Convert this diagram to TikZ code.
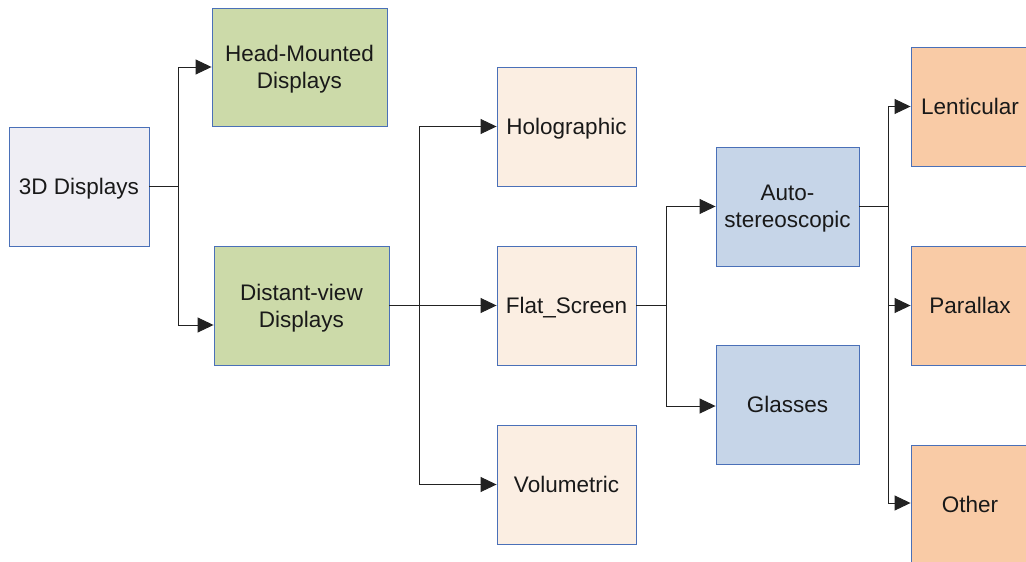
\documentclass[tikz,border=0pt]{standalone}
\usepackage{fontspec}
\setmainfont{Liberation Sans}
\usetikzlibrary{arrows.meta}
\definecolor{bordc}{HTML}{4A70B8}
\definecolor{lav}{HTML}{EFEEF4}
\definecolor{grn}{HTML}{CCDAA9}
\definecolor{pch}{HTML}{FBEEE2}
\definecolor{blu}{HTML}{C6D5E8}
\definecolor{org}{HTML}{F9CBA6}
\definecolor{ln}{HTML}{222222}
\tikzset{
  box/.style={draw=bordc, line width=0.9pt, rectangle, align=center,
    minimum width=#1, minimum height=119pt, inner sep=0pt, text depth=0pt,
    font=\fontsize{22.5}{27}\selectfont, text=black!90},
  box/.default=140pt,
  conn/.style={draw=ln, line width=0.9pt},
  arr/.style={conn, -{Triangle[length=16pt,width=15pt]}}
}
\begin{document}
\begin{tikzpicture}[x=1pt,y=1pt]
\useasboundingbox (0,0) rectangle (1026,-562);
\node[box=140pt, fill=lav] (d3) at (79,-186.5) {3D Displays};
\node[box=175pt, fill=grn, minimum height=118pt] (hmd) at (299.5,-67) {Head-Mounted\\Displays};
\node[box=175pt, fill=grn] (dvd) at (301.5,-305.5) {Distant-view\\Displays};
\node[box=139pt, fill=pch] (holo) at (566.5,-126.5) {Holographic};
\node[box=139pt, fill=pch] (flat) at (566.5,-305.5) {Flat\_Screen};
\node[box=139pt, fill=pch] (vol) at (566.5,-484.5) {Volumetric};
\node[box=143pt, fill=blu] (auto) at (787.5,-206.5) {Auto-\\stereoscopic};
\node[box=143pt, fill=blu] (glass) at (787.5,-404.5) {Glasses};
\node[box=118pt, fill=org] (lent) at (970,-106.5) {Lenticular};
\node[box=118pt, fill=org] (para) at (970,-305.5) {Parallax};
\node[box=118pt, fill=org] (other) at (970,-504.5) {Other};

\draw[conn] (d3.east) -- ++(29,0) coordinate (b1);
\draw[arr] (b1) |- (hmd.west);
\draw[arr] (b1) |- ([yshift=-19.5pt]dvd.west);

\draw[conn] (dvd.east) -- ++(30,0) coordinate (b2);
\draw[arr] (b2) |- (holo.west);
\draw[arr] (b2) -- (flat.west);
\draw[arr] (b2) |- (vol.west);

\draw[conn] (flat.east) -- ++(30,0) coordinate (b3);
\draw[arr] (b3) |- (auto.west);
\draw[arr] (b3) |- ([yshift=-1.5pt]glass.west);

\draw[conn] (auto.east) -- ++(29,0) coordinate (b4);
\draw[arr] (b4) |- (lent.west);
\draw[arr] (b4) |- (para.west);
\draw[arr] (b4) |- ([yshift=1.5pt]other.west);
\end{tikzpicture}
\end{document}
